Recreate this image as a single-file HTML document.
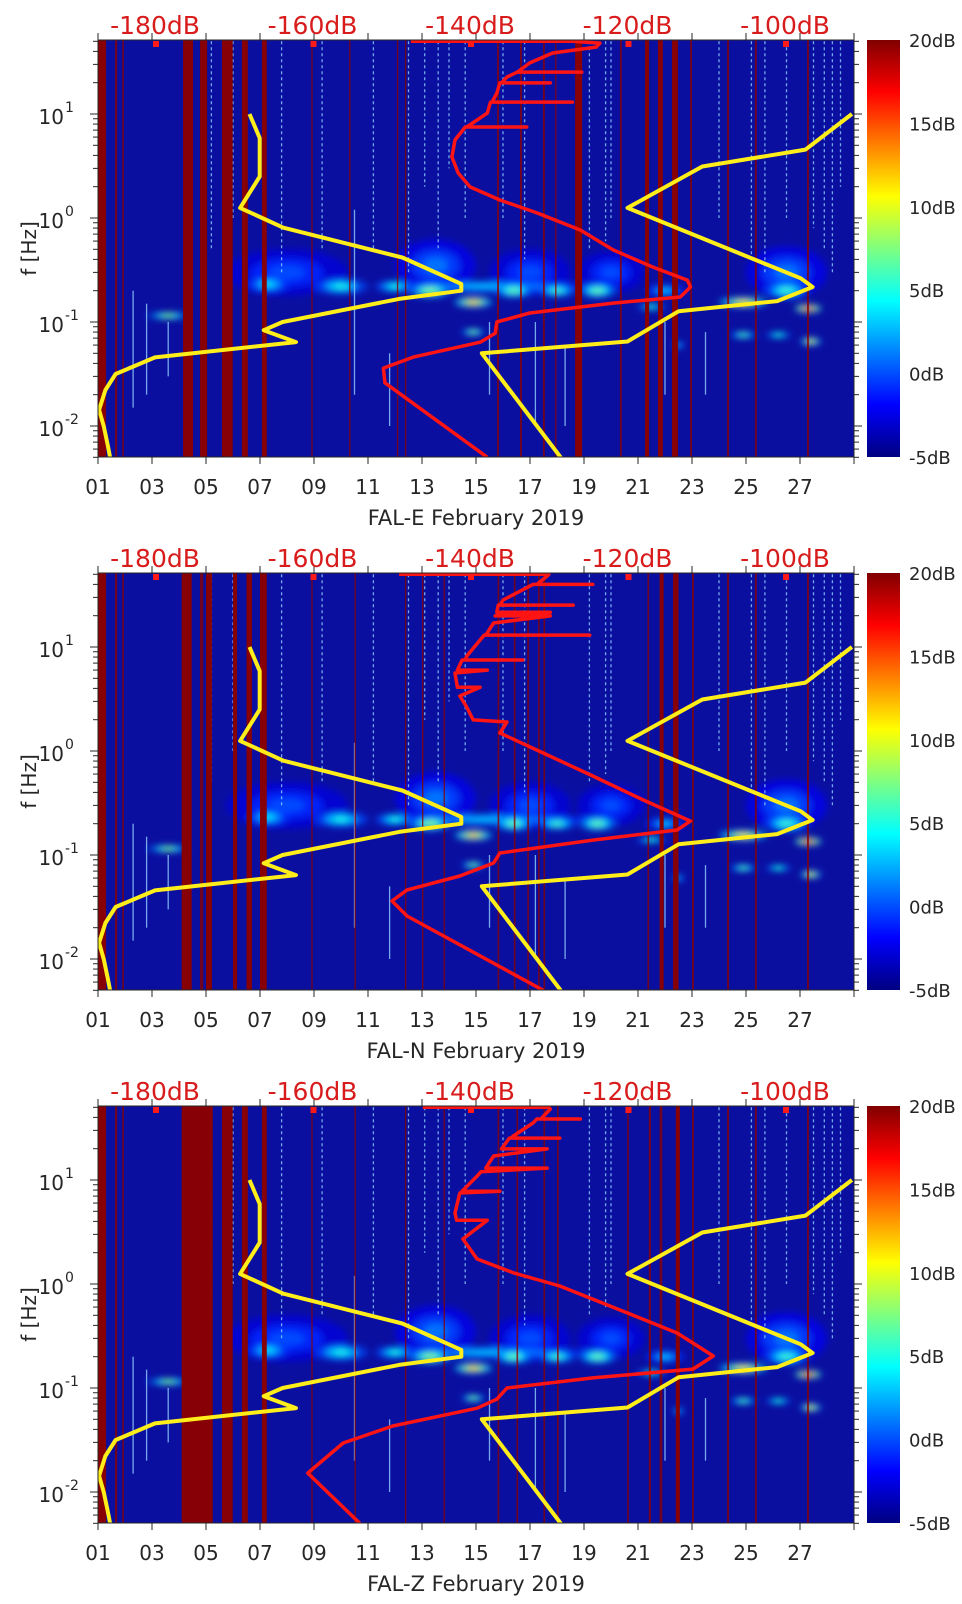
<!DOCTYPE html>
<html><head><meta charset="utf-8">
<style>
html,body{margin:0;padding:0;background:#fff;}
svg text{font-family:"DejaVu Sans","Liberation Sans",sans-serif;}
</style></head>
<body>
<svg id="chart" xmlns="http://www.w3.org/2000/svg" width="962" height="1599" viewBox="0 0 962 1599">
<defs>
<filter id="blur2" x="-50%" y="-50%" width="200%" height="200%"><feGaussianBlur stdDeviation="3.5"/></filter>
<linearGradient id="jetGrad" x1="0" y1="1" x2="0" y2="0">
<stop offset="0" stop-color="#000080"/><stop offset="0.125" stop-color="#0000ff"/>
<stop offset="0.375" stop-color="#00ffff"/><stop offset="0.625" stop-color="#ffff00"/>
<stop offset="0.875" stop-color="#ff0000"/><stop offset="1" stop-color="#800000"/>
</linearGradient>
</defs>
</svg>
<script>
// ---------- data ----------
const dayTicks = [1,3,5,7,9,11,13,15,17,19,21,23,25,27];
const dayLabels = ['01','03','05','07','09','11','13','15','17','19','21','23','25','27'];
const dbLabels = [-180,-160,-140,-120,-100];
const cbLabels = [-5,0,5,10,15,20];
const yDecades = [-2,-1,0,1];
const stationNames = ['FAL-E','FAL-N','FAL-Z'];

// noise models (frequency Hz, dB)
const nlnmF  = [10,5.88,2.5,1.25,0.806,0.4167,0.2326,0.2,0.1667,0.1,0.0833,0.0641,0.0457,0.0316,0.0222,0.0143,0.0099,0.0065,0.005];
const nlnmDB = [-168,-166.7,-166.7,-169.2,-163.7,-148.6,-141.1,-141.1,-149,-163.8,-166.2,-162.1,-180,-185,-186.3,-187.1,-186.5,-186,-185.7];
const nhnmF  = [10,4.545,3.125,1.25,0.263,0.217,0.159,0.127,0.0649,0.05,0.00282];
const nhnmDB = [-91.5,-97.4,-110.5,-120,-98,-96.5,-101,-113.5,-120,-138.5,-126];

// median PSD curves per station
const redE_f  = [50,50,48,44,38.6,31,25.3,25.3,25.3,22.7,19.9,19.9,19.9,15.9,13,13,13,10.2,7.5,7.5,7.5,5.62,3.86,2.71,1.99,1.49,1.12,0.767,0.492,0.338,0.253,0.217,0.174,0.152,0.122,0.1,0.078,0.064,0.046,0.036,0.026,0.005];
const redE_db = [-147.5,-127,-123.5,-124,-129.5,-132.4,-134,-125.8,-134,-135.3,-136,-129.8,-136.2,-136.6,-137.2,-127,-137.4,-137.8,-140.4,-132.8,-140.6,-141.9,-142.3,-141.5,-140,-136.2,-131.5,-126,-121.8,-116.8,-112.4,-112,-113.3,-121.8,-132.4,-136.6,-136.8,-138.7,-147.2,-151,-150.8,-137.8];
const redN_f  = [50,50,48.2,40,40,40,28.3,25.3,25.3,25.3,21.6,21.6,19.9,19.9,17,13,13,13,11.7,8.2,7.5,7.5,7.5,6,6,5.62,4.1,4.1,3.38,2.71,1.99,1.9,1.49,0.957,0.575,0.338,0.212,0.174,0.139,0.1045,0.0838,0.0628,0.0461,0.0361,0.0259,0.005];
const redN_db = [-149,-130,-130.2,-131.5,-124.4,-132,-135.8,-136.2,-126.9,-136.4,-136.6,-129.8,-136.8,-129.8,-137,-138,-124.8,-138.2,-138.7,-140.4,-140.6,-133.3,-141,-141.6,-137.8,-141.9,-141.6,-138.7,-141.3,-140.5,-139.6,-135.3,-136.2,-130.7,-124.4,-118,-112,-113.7,-124.4,-136.2,-137,-141.3,-148,-149.9,-148,-130.7];
const redZ_f  = [50,50,48.2,38.6,38.6,38.6,35.3,26.5,25.3,25.3,25.3,19.9,19.9,17,13,13,12,10.9,7.8,7.8,7.5,4.82,4.1,4.1,2.71,1.74,1.28,0.957,0.526,0.338,0.203,0.152,0.125,0.1,0.078,0.064,0.0431,0.0296,0.0152,0.005];
const redZ_db = [-146,-130,-129.8,-131,-126,-131.5,-132,-134.5,-134.8,-128.6,-135,-136,-130.2,-137,-138,-130.2,-138.6,-139.1,-141,-136.2,-141.3,-141.9,-141.7,-137.8,-140.9,-139.1,-134.5,-128.6,-120,-113.7,-109.1,-111.7,-124.4,-135.3,-136.6,-139.1,-149.8,-156.1,-160.6,-154];

// data-gap columns: start day and width in days
const stripeE_day = [1.0,1.63,1.9,4.15,4.78,5.59,6.33,7.07,8.9,10.3,12.07,12.37,15.78,16.63,17.48,17.93,18.67,20.33,21.26,21.74,22.26,22.93,24.3,25.33,27.26];
const stripeE_w   = [0.3,0.08,0.06,0.37,0.26,0.4,0.22,0.18,0.05,0.05,0.05,0.05,0.07,0.07,0.07,0.05,0.26,0.07,0.15,0.18,0.22,0.07,0.07,0.07,0.07];
const stripeN_day = [1.0,1.63,1.9,4.1,4.78,5.0,6.0,6.5,7.0,8.9,10.5,12.37,13.0,13.8,15.8,16.4,16.9,17.3,17.5,21.35,21.8,22.3,23.0,24.3,25.33,27.26];
const stripeN_w   = [0.3,0.08,0.06,0.37,0.12,0.22,0.15,0.2,0.25,0.05,0.05,0.05,0.05,0.05,0.06,0.06,0.06,0.06,0.06,0.06,0.15,0.2,0.07,0.07,0.07,0.07];
const stripeZ_day = [1.0,1.63,1.9,4.1,5.59,6.33,7.07,8.9,10.5,12.37,13.8,15.8,16.5,17.5,18.0,20.6,21.4,21.8,22.4,23.0,24.3,25.33,27.26];
const stripeZ_w   = [0.3,0.08,0.06,1.15,0.4,0.22,0.18,0.05,0.05,0.05,0.05,0.06,0.06,0.06,0.06,0.06,0.08,0.1,0.15,0.07,0.07,0.07,0.07];

// microseism energy patches: day, centre freq, width (days), height (decades), level (dB)
const blobDay = [8,13.5,17,20,26.5,15.5,3.6,7.3,10,13.3,14.9,16.4,18,19.5,24.9,26.5,27.3,27.4,14.9,24.9,26.2,21.5,22.5,12,22];
const blobF   = [0.3,0.35,0.3,0.3,0.3,0.22,0.115,0.23,0.22,0.2,0.155,0.2,0.2,0.2,0.155,0.2,0.135,0.065,0.08,0.075,0.075,0.14,0.06,0.22,0.2];
const blobW   = [4.5,3,3,2.5,3,8,1.6,1.6,2,1.6,1.4,1.4,1.4,1.4,1.8,1.6,1.0,0.8,0.9,1.0,1.0,1.2,0.5,1.5,1.5];
const blobH   = [0.45,0.5,0.45,0.4,0.5,0.12,0.06,0.16,0.16,0.14,0.1,0.14,0.12,0.14,0.1,0.16,0.08,0.07,0.06,0.06,0.05,0.05,0.05,0.12,0.12];
const blobDB  = [0,1,0,0,1,3,7,4,5,8,12,7,6,7,11,6,16,10,7,6,5,5,3,5,3];

// transient speckle lines: day, low freq, high freq
const speckDay = [2.3,2.8,3.6,5.2,6.0,7.8,9.3,10.5,11.2,12.5,13.1,14.0,15.5,16.0,17.2,19.2,20.0,22.0,24.0,25.7,26.5,27.9,28.5,11.8,18.3,23.5,13.6,14.6,16.8,19.8,25.2,27.5,28.2];
const speckLo  = [0.015,0.02,0.03,0.5,1,0.3,0.5,0.02,0.5,0.3,2,3,0.02,1,0.01,0.5,1,0.02,1,0.3,1,0.5,2,0.01,0.01,0.02,0.5,1,0.4,0.6,0.4,0.8,0.3];
const speckHi  = [0.2,0.15,0.1,50,50,50,50,1.2,50,50,50,50,0.1,50,0.1,50,50,0.1,50,50,50,50,50,0.05,0.06,0.08,50,50,50,50,50,50,50];

const redSets = [[redE_f,redE_db],[redN_f,redN_db],[redZ_f,redZ_db]];
const stripeSets = [[stripeE_day,stripeE_w],[stripeN_day,stripeN_w],[stripeZ_day,stripeZ_w]];

// ---------- layout & scales ----------
const NS='http://www.w3.org/2000/svg';
const svg=document.getElementById('chart');
const X0=98, X1=854, PH=417, LOGTOP=1.7115, DEC=104;
const tops=[40,573,1106];
function xDay(d){return X0+(d-1)*27;}
function xDB(db){return 155+(db+180)*7.875;}
function yF(f,top){return top+(LOGTOP-Math.log10(f))*DEC;}
function clamp(v){return Math.max(0,Math.min(1,v));}
function jet(v){const t=clamp((v+5)/25);
  const r=clamp(1.5-Math.abs(4*t-3)),g=clamp(1.5-Math.abs(4*t-2)),b=clamp(1.5-Math.abs(4*t-1));
  return 'rgb('+Math.round(r*255)+','+Math.round(g*255)+','+Math.round(b*255)+')';}
function mk(tag,attrs,parent){const e=document.createElementNS(NS,tag);for(const k in attrs)e.setAttribute(k,attrs[k]);(parent||svg).appendChild(e);return e;}

const defs=svg.querySelector('defs');

tops.forEach((top,p)=>{
  const g=mk('g',{});
  
  
  const cp=mk('clipPath',{id:'clip'+p},defs);
  mk('rect',{x:X0,y:top,width:X1-X0,height:PH},cp);
  const plot=mk('g',{'clip-path':'url(#clip'+p+')'},g);
  
  
  const bg=mk('rect',{x:X0,y:top,width:X1-X0,height:PH,fill:'#0a0fa0'},plot);
  
  

  // blobs
  const bl=mk('g',{filter:'url(#blur2)'},plot);
  
  
  blobDay.forEach((d,i)=>{
    const lv=[[1,-5+(blobDB[i]+5)*0.5,0.7],[0.6,-5+(blobDB[i]+5)*0.8,0.85],[0.3,blobDB[i],0.95]];
    lv.forEach(l=>{
      const e=mk('ellipse',{cx:xDay(d),cy:yF(blobF[i],top),rx:blobW[i]*27/2*l[0],ry:Math.max(2.5,blobH[i]*DEC/2*l[0]),fill:jet(l[1]),opacity:l[2]},bl);
      
      
    });
  });

  // speckles
  speckDay.forEach((d,i)=>{
    const ln=mk('line',{x1:xDay(d),x2:xDay(d),y1:yF(speckHi[i],top),y2:yF(speckLo[i],top),stroke:'#8fd0ff','stroke-width':1.3,'stroke-dasharray':speckHi[i]>5?'3 3':'none',opacity:0.8},plot);
    
    
  });

  // stripes
  const [sd,sw]=stripeSets[p];
  sd.forEach((d,i)=>{
    const r=mk('rect',{x:xDay(d),y:top,width:Math.max(1.2,sw[i]*27),height:PH,fill:'#8a0000',opacity:sw[i]>=0.15?0.97:0.8},plot);
    
    
  });

  function line(fs,dbs,color,w,name){
    const pts=fs.map((f,i)=>xDB(dbs[i]).toFixed(1)+','+yF(f,top).toFixed(1)).join(' ');
    const pl=mk('polyline',{points:pts,fill:'none',stroke:color,'stroke-width':w,'stroke-linejoin':'round'},plot);
    
    
  }
  line(nlnmF,nlnmDB,'#ffee1a',4,'nlnm-line');
  line(nhnmF,nhnmDB,'#ffee1a',4,'nhnm-line');
  line(redSets[p][0],redSets[p][1],'#ff1414',3.5,'median-psd-line');

  dbLabels.forEach(db=>{
    const m=mk('rect',{x:xDB(db)-2,y:top+1,width:6,height:6,fill:'#ff1a1a'},plot);
    
    
  });

  const fr=mk('rect',{x:X0,y:top,width:X1-X0,height:PH,fill:'none',stroke:'#262626','stroke-width':1},g);
  
  

  dayTicks.concat([29]).forEach(d=>{
    const x=xDay(d);
    const t1=mk('line',{x1:x,x2:x,y1:top,y2:top-7,stroke:'#262626'},g);
    
    
    const t2=mk('line',{x1:x,x2:x,y1:top+PH,y2:top+PH+7,stroke:'#262626'},g);
    
    
  });
  dayTicks.forEach((d,i)=>{
    const t=mk('text',{x:xDay(d),y:top+PH+37,'text-anchor':'middle','font-size':20,fill:'#262626'},g);
    t.textContent=dayLabels[i];
    
    
  });
  const xl=mk('text',{x:476,y:top+PH+68,'text-anchor':'middle','font-size':21,fill:'#262626'},g);
  xl.textContent=stationNames[p]+' February 2019';
  
  

  dbLabels.forEach(db=>{
    const t=mk('text',{x:xDB(db),y:top-6,'text-anchor':'middle','font-size':25,fill:'#d81c1c'},g);
    t.textContent=db+'dB';
    
    
  });

  for(let d=-3;d<=1;d++){
    for(let k=1;k<=9;k++){
      const f=k*Math.pow(10,d);
      const y=yF(f,top);
      if(y<top-0.5||y>top+PH+0.5) continue;
      const L=k===1?8:5;
      const a=mk('line',{x1:X0,x2:X0-L,y1:y,y2:y,stroke:'#262626'},g);
      
      
      const b=mk('line',{x1:X1,x2:X1+L,y1:y,y2:y,stroke:'#262626'},g);
      
      
    }
  }
  yDecades.forEach(d=>{
    const y=yF(Math.pow(10,d),top);
    const t=mk('text',{x:64,y:y+10,'text-anchor':'end','font-size':20,fill:'#262626'},g);
    t.textContent='10';
    
    
    const s=mk('text',{x:65,y:y-2,'font-size':14,fill:'#262626'},g);
    s.textContent=String(d);
    
    
  });
  const yl=mk('text',{x:0,y:0,'text-anchor':'middle','font-size':20,fill:'#262626',transform:'translate(36,'+(top+PH/2)+') rotate(-90)'},g);
  yl.textContent='f [Hz]';
  
  

  const cb=mk('rect',{x:867,y:top,width:33,height:PH,fill:'url(#jetGrad)'},g);
  
  
  cbLabels.forEach(v=>{
    const y=top+PH-(v+5)/25*PH;
    const t=mk('text',{x:909,y:y+7,'font-size':18,fill:'#262626'},g);
    t.textContent=v+'dB';
    
    
  });
});
</script>
</body></html>
